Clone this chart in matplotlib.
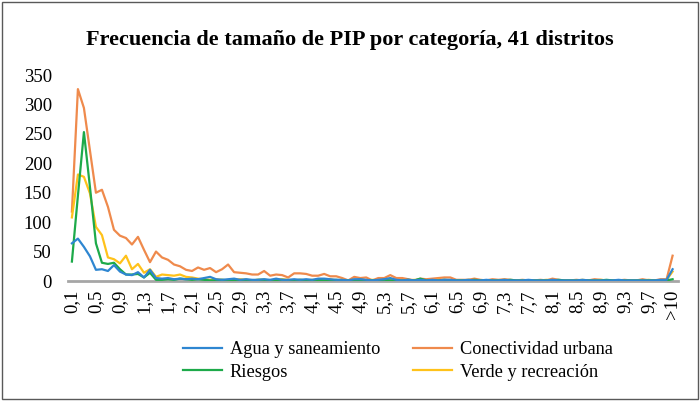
import matplotlib
matplotlib.use("Agg")
import matplotlib.pyplot as plt
from matplotlib.patches import Rectangle

categories = [f"{i/10:.1f}".replace(".", ",") for i in range(1, 101)] + [">10"]

agua = [64, 72, 58, 42, 19, 20, 17, 27, 16, 11, 10, 15, 6, 19, 5, 4, 5, 3, 4, 3,
        4, 3, 5, 7, 3, 2, 3, 4, 2, 3, 2, 2, 3, 2, 4, 2, 2, 3, 2, 3,
        2, 4, 4, 3, 2, 2, 1, 3, 3, 2, 1, 2, 3, 5, 2, 1, 2, 1, 2, 1,
        2, 1, 2, 2, 1, 1, 2, 1, 1, 2, 1, 1, 2, 1, 1, 1, 2, 1, 1, 1,
        2, 1, 1, 1, 1, 2, 1, 1, 1, 1, 1, 2, 1, 1, 1, 1, 1, 1, 2, 2,
        20]
conectividad = [118, 326, 294, 222, 150, 155, 126, 87, 77, 73, 62, 75, 53, 32, 50, 40, 36, 28, 25, 19,
                17, 23, 19, 22, 15, 20, 28, 15, 14, 13, 11, 11, 17, 9, 11, 10, 6, 13, 13, 12,
                9, 9, 12, 8, 8, 5, 1, 7, 5, 6, 1, 5, 5, 10, 5, 5, 3, 1, 4, 3,
                4, 5, 6, 6, 2, 2, 2, 4, 2, 1, 3, 2, 3, 2, 1, 2, 1, 1, 2, 1,
                4, 2, 1, 1, 2, 1, 1, 3, 2, 1, 1, 1, 2, 1, 1, 3, 1, 1, 3, 3,
                43]
riesgos = [33, 145, 253, 160, 64, 31, 29, 31, 20, 11, 11, 12, 6, 14, 2, 2, 3, 2, 4, 3,
           2, 3, 2, 1, 1, 2, 1, 2, 1, 2, 1, 2, 2, 1, 1, 2, 1, 1, 2, 1,
           1, 2, 1, 1, 2, 1, 1, 1, 2, 1, 1, 1, 2, 1, 1, 1, 2, 1, 4, 1,
           1, 1, 2, 1, 1, 1, 1, 2, 1, 1, 1, 1, 1, 2, 1, 1, 1, 1, 1, 1,
           1, 2, 1, 1, 1, 1, 1, 1, 1, 2, 1, 1, 1, 1, 1, 1, 1, 1, 1, 1,
           3]
verde = [108, 181, 177, 149, 92, 78, 40, 37, 30, 43, 20, 29, 14, 20, 7, 11, 10, 9, 11, 7,
         6, 4, 3, 2, 3, 2, 1, 2, 3, 2, 1, 2, 2, 1, 2, 3, 2, 1, 2, 1,
         2, 1, 2, 3, 1, 2, 1, 2, 1, 1, 2, 1, 1, 2, 1, 1, 1, 2, 1, 1,
         1, 2, 1, 1, 1, 1, 2, 1, 1, 1, 1, 1, 2, 1, 1, 1, 1, 1, 1, 2,
         1, 1, 1, 1, 1, 2, 1, 1, 2, 1, 1, 1, 1, 1, 1, 1, 2, 1, 1, 2,
         16]

plt.rcParams['font.family'] = ['Liberation Serif', 'DejaVu Serif']

fig = plt.figure(figsize=(7.0, 4.01), dpi=100)
ax = fig.add_axes([68/700, 1-281/401, 610/700, 206/401])

x = list(range(len(categories)))
lw = 1.6
l1, = ax.plot(x, agua, color='#2E86D1', lw=lw, label='Agua y saneamiento')
l3, = ax.plot(x, riesgos, color='#1DAA4A', lw=lw, label='Riesgos')
l2, = ax.plot(x, conectividad, color='#EF8A4C', lw=lw, label='Conectividad urbana')
l4, = ax.plot(x, verde, color='#FFC21A', lw=lw, label='Verde y recreación')
l2.set_zorder(1); l4.set_zorder(2); l3.set_zorder(3); l1.set_zorder(4)

ax.set_xlim(-0.65, 100.9)
ax.set_ylim(0, 350)
ax.set_yticks(range(0, 351, 50))
ticks = list(range(0, 101, 4))
ax.set_xticks(ticks)
ax.set_xticklabels([categories[i] for i in ticks], rotation=90)
ax.tick_params(axis='both', length=0, labelsize=13.5, colors='#000000')
ax.tick_params(axis='x', pad=6)
ax.tick_params(axis='y', pad=11.5)
for s in ['top', 'right', 'left']:
    ax.spines[s].set_visible(False)
ax.spines['bottom'].set_color('#A6A6A6')
ax.spines['bottom'].set_linewidth(2)

fig.text(0.5, 1-40/401, 'Frecuencia de tamaño de PIP por categoría, 41 distritos',
         ha='center', va='center', fontsize=16, fontweight='bold')

fig.legend(handles=[l1, l3, l2, l4], loc='center', ncol=2,
           bbox_to_anchor=(398/700, 1-361/401), frameon=False, fontsize=13.2,
           handlelength=2.1, handletextpad=0.45, columnspacing=1.8,
           labelspacing=0.3)

fig.patches.append(Rectangle((0.003, 0.004), 0.994, 0.992, transform=fig.transFigure,
                             fill=False, edgecolor='#595959', linewidth=1.0))

fig.savefig('out.png', dpi=100)
